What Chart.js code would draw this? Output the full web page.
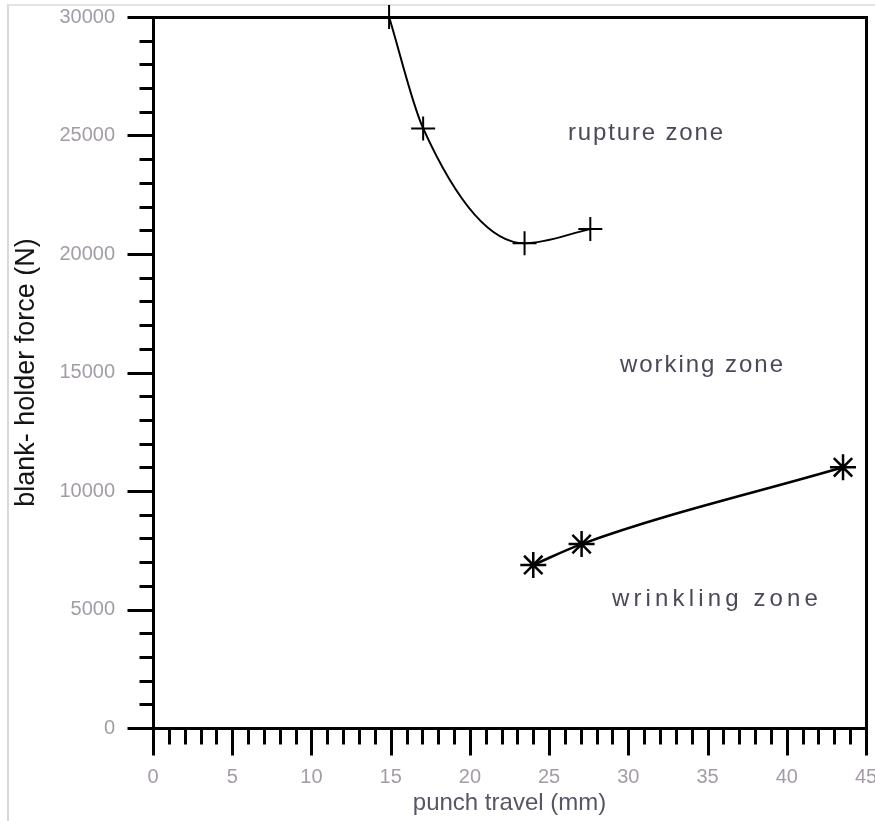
<!DOCTYPE html>
<html>
<head>
<meta charset="utf-8">
<script src="https://cdn.jsdelivr.net/npm/chart.js@4.4.1/dist/chart.umd.min.js"></script>
<style>
html, body { margin: 0; padding: 0; background: #fff; }
#wrap { position: relative; width: 875px; height: 821px; overflow: hidden; }
#edge { position: absolute; left: 7px; top: 4px; right: 0; bottom: 0;
        border-left: 2px solid #d9d9d9; border-top: 2px solid #e3e3e3; }
canvas { position: absolute; left: 0; top: 0; }
</style>
</head>
<body>
<div id="wrap"><div id="edge"></div><canvas id="c" width="875" height="821"></canvas></div>
<script>
// ---- data ----
const ruptureTravel   = [14.9, 17.05, 23.45, 27.6];
const ruptureForce    = [30000, 25300, 20450, 21050];
const wrinklingTravel = [24.0, 27.05, 43.55];
const wrinklingForce  = [6880, 7760, 11000];
const xTickValues = [0, 5, 10, 15, 20, 25, 30, 35, 40, 45];
const yTickValues = [0, 5000, 10000, 15000, 20000, 25000, 30000];
const zoneLabels = ['rupture zone', 'working zone', 'wrinkling zone'];

const FONT = "'Liberation Sans', Arial, Helvetica, sans-serif";

const axisFrame = {
  id: 'axisFrame',
  beforeDatasetsDraw(chart, args, opts) {
    const { ctx, chartArea: a, scales: { x, y } } = chart;
    ctx.save();
    ctx.strokeStyle = '#000';
    ctx.lineWidth = 3;
    ctx.lineCap = 'butt';
    const L = Math.round(a.left) + 0.5, R = Math.round(a.right) + 0.5;
    const T = Math.round(a.top) + 0.5, B = Math.round(a.bottom) + 0.5;
    ctx.beginPath();
    ctx.moveTo(L, T); ctx.lineTo(R, T); ctx.lineTo(R, B); ctx.lineTo(L, B); ctx.closePath();
    ctx.stroke();
    ctx.beginPath();
    const ny = Math.round((y.max - y.min) / opts.yMinor);
    for (let i = 0; i <= ny; i++) {
      const v = y.min + i * opts.yMinor;
      const p = Math.round(y.getPixelForValue(v)) + 0.5;
      const len = (v % opts.yMajor === 0) ? opts.majorLen : opts.minorLen;
      ctx.moveTo(L, p); ctx.lineTo(L - len, p);
    }
    const nx = Math.round((x.max - x.min) / opts.xMinor);
    for (let i = 0; i <= nx; i++) {
      const v = x.min + i * opts.xMinor;
      const p = Math.round(x.getPixelForValue(v)) + 0.5;
      const len = (v % opts.xMajor === 0) ? opts.majorLen + 1 : opts.minorLen + 2;
      ctx.moveTo(p, B); ctx.lineTo(p, B + len);
    }
    ctx.stroke();
    ctx.restore();
  }
};

const zoneText = {
  id: 'zoneText',
  afterDatasetsDraw(chart, args, opts) {
    const { ctx, scales: { x, y } } = chart;
    ctx.save();
    ctx.font = opts.font;
    ctx.fillStyle = opts.color;
    ctx.textAlign = 'left';
    ctx.textBaseline = 'alphabetic';
    opts.items.forEach((it, i) => {
      const text = zoneLabels[i];
      ctx.letterSpacing = '0px';
      const w = ctx.measureText(text).width;
      const sp = Math.max(0, (it.width - w) / text.length);
      ctx.letterSpacing = sp.toFixed(2) + 'px';
      ctx.fillText(text, x.getPixelForValue(it.x), y.getPixelForValue(it.y));
    });
    ctx.restore();
  }
};

const toPoints = (xs, ys) => xs.map((v, i) => ({ x: v, y: ys[i] }));

new Chart(document.getElementById('c'), {
  type: 'scatter',
  data: {
    datasets: [
      {
        label: 'rupture limit',
        data: toPoints(ruptureTravel, ruptureForce),
        showLine: true,
        borderColor: '#000',
        borderWidth: 2,
        cubicInterpolationMode: 'monotone',
        pointStyle: 'cross',
        pointRadius: 12,
        pointBorderWidth: 2,
        pointBorderColor: '#000',
        pointBackgroundColor: '#000',
        clip: false
      },
      {
        label: 'wrinkling limit',
        data: toPoints(wrinklingTravel, wrinklingForce),
        showLine: true,
        borderColor: '#000',
        borderWidth: 2.5,
        cubicInterpolationMode: 'monotone',
        pointStyle: 'star',
        pointRadius: 13,
        pointBorderWidth: 2.5,
        pointBorderColor: '#000',
        pointBackgroundColor: '#000',
        clip: false
      }
    ]
  },
  options: {
    responsive: false,
    animation: false,
    devicePixelRatio: 1,
    layout: { autoPadding: false, padding: { left: 0, right: 9, top: 17, bottom: 0 } },
    plugins: {
      legend: { display: false },
      tooltip: { enabled: false },
      axisFrame: { xMinor: 1, xMajor: 5, yMinor: 1000, yMajor: 5000, majorLen: 26, minorLen: 14 },
      zoneText: {
        font: '24px ' + FONT,
        color: '#4d4858',
        items: [
          { x: 26.19, y: 24790, width: 157 },
          { x: 29.47, y: 15010, width: 165 },
          { x: 28.97, y: 5150, width: 210 }
        ]
      }
    },
    scales: {
      x: {
        type: 'linear',
        min: 0, max: 45,
        afterBuildTicks: s => { s.ticks = xTickValues.map(v => ({ value: v })); },
        afterFit: s => { s.height = 93; s.paddingLeft = 0; s.paddingRight = 0; },
        grid: { display: false, drawTicks: false },
        border: { display: false },
        ticks: { padding: 37, color: '#a39ca6', font: { family: FONT, size: 20 }, maxRotation: 0,
                 autoSkip: false, callback: v => String(v) },
        title: { display: true, text: 'punch travel (mm)', color: '#5a5464',
                 font: { family: FONT, size: 24 }, padding: { top: 0, bottom: 3 } }
      },
      y: {
        type: 'linear',
        min: 0, max: 30000,
        afterBuildTicks: s => { s.ticks = yTickValues.map(v => ({ value: v })); },
        afterFit: s => { s.width = 153; s.paddingTop = 0; s.paddingBottom = 0; },
        grid: { display: false, drawTicks: false },
        border: { display: false },
        ticks: { padding: 38, color: '#a39ca6', font: { family: FONT, size: 20 }, autoSkip: false,
                 callback: v => String(v) },
        title: { display: true, text: 'blank- holder force (N)', color: '#141414',
                 font: { family: FONT, size: 27 }, padding: { top: 10, bottom: 0 } }
      }
    }
  },
  plugins: [axisFrame, zoneText]
});
</script>
</body>
</html>
